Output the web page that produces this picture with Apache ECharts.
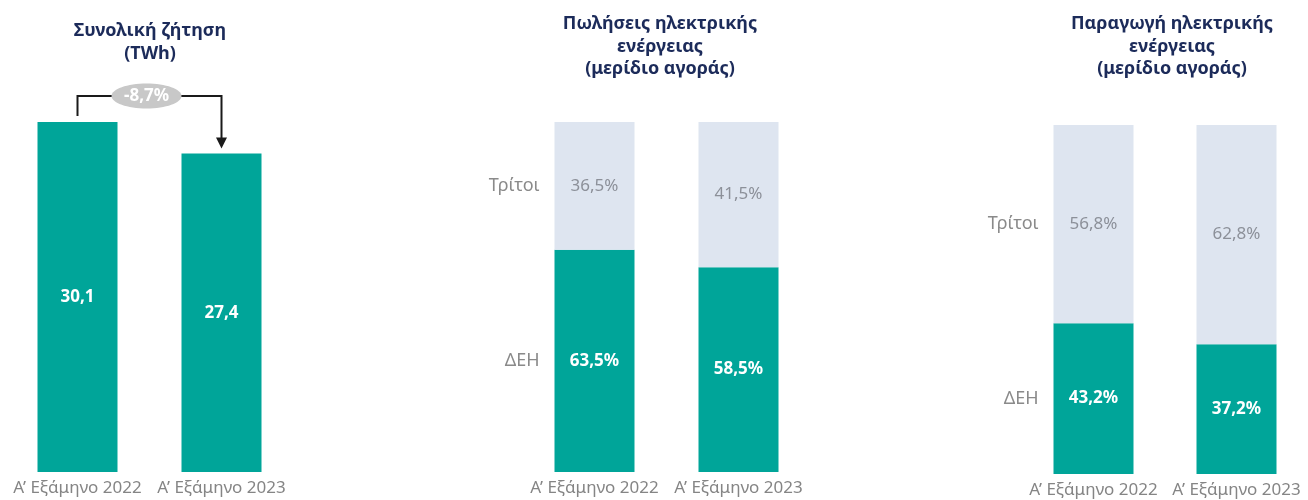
<!DOCTYPE html>
<html>
<head>
<meta charset="utf-8">
<script src="https://cdn.jsdelivr.net/npm/echarts@6/dist/echarts.min.js"></script>
<style>
html,body{margin:0;padding:0;background:#fff;}
#chart{width:1308px;height:500px;}
</style>
</head>
<body>
<div id="chart"></div>
<script>
const categories = ['Α’ Εξάμηνο 2022', 'Α’ Εξάμηνο 2023'];
const demand = [30.1, 27.4];
const salesPPC = [63.5, 58.5];
const salesOthers = [36.5, 41.5];
const genPPC = [43.2, 37.2];
const genOthers = [56.8, 62.8];
const rowLabels = ['ΔΕΗ', 'Τρίτοι'];
const changeLabel = '-8,7%';
const titles = ['Συνολική ζήτηση\n(TWh)', 'Πωλήσεις ηλεκτρικής\nενέργειας\n(μερίδιο αγοράς)', 'Παραγωγή ηλεκτρικής\nενέργειας\n(μερίδιο αγοράς)'];

const TEAL = '#00a599';
const LIGHT = '#dee5f0';
const GREY = '#8c9099';
const NAVY = '#1c2b5a';
const FONT = 'Noto Sans';

const fmtNum = v => v.toFixed(1).replace('.', ',');
const fmtPct = v => fmtNum(v) + '%';

const chart = echarts.init(document.getElementById('chart'));

function xAxis(i) {
  return {
    type: 'category', gridIndex: i, data: categories,
    axisLine: {show: false}, axisTick: {show: false},
    axisLabel: {interval: 0, fontFamily: FONT, fontSize: 17, color: '#858585', margin: 8}
  };
}
function yAxis(i, max) {
  return {type: 'value', gridIndex: i, min: 0, max: max, show: false, splitLine: {show: false}};
}
function rowMark(name, values, base) {
  return {
    symbol: 'rect', symbolSize: 0, silent: true,
    data: [{
      coord: [0, base + values[0] / 2],
      label: {show: true, formatter: name, position: 'left', distance: 55,
              fontFamily: FONT, fontSize: 18, color: '#8a8a8a'}
    }]
  };
}
function stackPair(i, ppc, others) {
  return [
    {
      type: 'bar', xAxisIndex: i, yAxisIndex: i, stack: 's' + i, barWidth: 80,
      data: ppc, itemStyle: {color: TEAL},
      label: {show: true, position: 'inside', formatter: p => fmtPct(p.value),
              color: '#fff', fontFamily: FONT, fontSize: 17, fontWeight: 'bold'},
      markPoint: rowMark(rowLabels[0], ppc, 0)
    },
    {
      type: 'bar', xAxisIndex: i, yAxisIndex: i, stack: 's' + i, barWidth: 80,
      data: others, itemStyle: {color: LIGHT},
      label: {show: true, position: 'inside', formatter: p => fmtPct(p.value),
              color: GREY, fontFamily: FONT, fontSize: 17},
      markPoint: rowMark(rowLabels[1], others, ppc[0])
    }
  ];
}

const titleCenters = [150, 660, 1172];
const titleTops = [20, 13, 13];

const option = {
  backgroundColor: '#fff',
  animation: false,
  title: titles.map((t, i) => ({
    text: t, left: titleCenters[i], top: titleTops[i], textAlign: 'center', padding: 0,
    textStyle: {fontFamily: FONT, fontSize: 18, fontWeight: 'bold', color: NAVY, lineHeight: 22.5}
  })),
  grid: [
    {left: 5.5, width: 288, top: 122, bottom: 28},
    {left: 522.5, width: 288, top: 122, bottom: 28},
    {left: 1022, width: 288, top: 125, bottom: 26}
  ],
  xAxis: [xAxis(0), xAxis(1), xAxis(2)],
  yAxis: [yAxis(0, Math.max(...demand)), yAxis(1, 100), yAxis(2, 100)],
  series: [
    {
      type: 'bar', xAxisIndex: 0, yAxisIndex: 0, barWidth: 80, data: demand,
      itemStyle: {color: TEAL},
      label: {show: true, position: 'inside', formatter: p => fmtNum(p.value),
              color: '#fff', fontFamily: FONT, fontSize: 17, fontWeight: 'bold'}
    },
    ...stackPair(1, salesPPC, salesOthers),
    ...stackPair(2, genPPC, genOthers)
  ]
};
chart.setOption(option);

// bracket annotation between the two demand bars
const p1 = chart.convertToPixel({seriesIndex: 0}, [0, demand[0]]);
const p2 = chart.convertToPixel({seriesIndex: 0}, [1, demand[1]]);
const yTop = p1[1] - 26;
const x1 = p1[0], x2 = p2[0];
const tipY = p2[1] - 5;
const midX = (x1 + x2) / 2 - 3;
chart.setOption({
  graphic: [
    {type: 'polyline', silent: true, shape: {points: [[x1, p1[1] - 6], [x1, yTop], [x2, yTop], [x2, tipY - 10]]},
     style: {stroke: '#1a1a1a', lineWidth: 2, fill: null}},
    {type: 'polygon', silent: true, shape: {points: [[x2 - 5.5, tipY - 11], [x2 + 5.5, tipY - 11], [x2, tipY]]},
     style: {fill: '#1a1a1a'}},
    {type: 'ellipse', silent: true, shape: {cx: midX, cy: yTop, rx: 35, ry: 12.5},
     style: {fill: '#c8c8c8'}},
    {type: 'text', silent: true, x: midX, y: yTop,
     style: {text: changeLabel, fill: '#fff', font: 'bold 17px "Noto Sans"', align: 'center', verticalAlign: 'middle'}}
  ]
});
</script>
</body>
</html>
